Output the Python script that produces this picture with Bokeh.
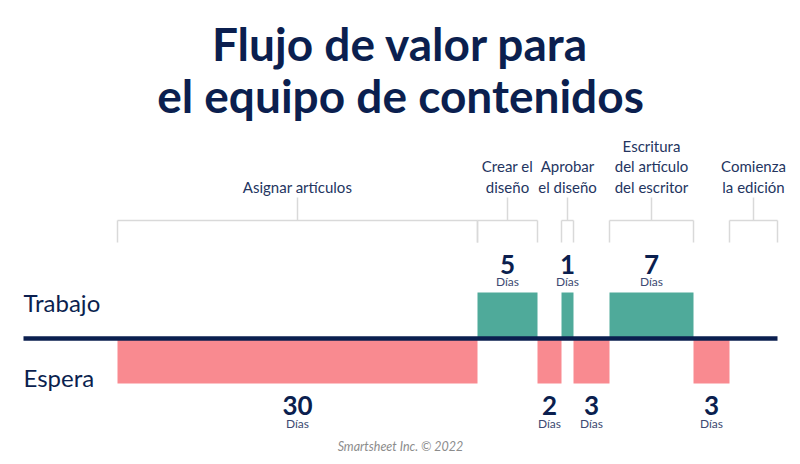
from bokeh.plotting import figure
from bokeh.models import Range1d, ColumnDataSource
from bokeh.core.properties import value
from bokeh.embed import file_html
from bokeh.resources import INLINE

# ---- data ----
title_lines = ["Flujo de valor para", "el equipo de contenidos"]
segment_kind = ["Espera", "Trabajo", "Espera", "Trabajo", "Espera", "Trabajo", "Espera"]
segment_days = [30, 5, 2, 1, 3, 7, 3]
step_labels = [
    ["Asignar artículos"],
    ["Crear el", "diseño"],
    ["Aprobar", "el diseño"],
    ["Escritura", "del artículo", "del escritor"],
    ["Comienza", "la edición"],
]
step_start = [0, 30, 37, 41, 51]
step_end = [30, 35, 38, 48, 55]
row_labels = ["Trabajo", "Espera"]
unit_label = "Días"
footer = "Smartsheet Inc. © 2022"

NAVY = "#0b1f4f"
TEAL = "#4faa9a"
PINK = "#f98a90"
GRAY = "#d9d9d9"
FONT = "Lato"

W, H = 792, 456
px_per_day = 12.0
left_px = 117.0  # frame px of day 0
base_px = 338.0  # frame px from top of baseline
center_x = 400.0

p = figure(width=W, height=H, output_backend="svg", toolbar_location=None,
           x_range=Range1d(-left_px / px_per_day, (W - left_px) / px_per_day),
           y_range=Range1d(base_px - H, base_px),
           min_border=0, min_border_left=0, min_border_right=0,
           min_border_top=0, min_border_bottom=0)
p.axis.visible = False
p.grid.visible = False
p.outline_line_color = None
p.background_fill_color = "white"
p.border_fill_color = "white"

# segments
starts = []
acc = 0
for d in segment_days:
    starts.append(acc)
    acc += d
ends = [s + d for s, d in zip(starts, segment_days)]
work_top, wait_bot = 46, -45
tops = [work_top if k == "Trabajo" else 0 for k in segment_kind]
bots = [0 if k == "Trabajo" else wait_bot for k in segment_kind]
cols = [TEAL if k == "Trabajo" else PINK for k in segment_kind]
src = ColumnDataSource(dict(left=starts, right=ends, top=tops, bottom=bots, color=cols))
p.quad(left="left", right="right", top="top", bottom="bottom", color="color",
       line_color=None, source=src)

# baseline
label_x = -94 / px_per_day
p.segment(x0=[label_x], x1=[max(step_end)], y0=[0], y1=[0], line_color=NAVY, line_width=4.5)

# value labels
mids = [(s + e) / 2 for s, e in zip(starts, ends)]
num_y = [74 if k == "Trabajo" else -67 for k in segment_kind]
dias_y = [57 if k == "Trabajo" else -85 for k in segment_kind]
p.text(x=mids, y=num_y, text=[str(d) for d in segment_days], text_align="center",
       text_baseline="middle", text_font=value(FONT), text_font_style="bold",
       text_font_size="26px", text_color=NAVY)
p.text(x=mids, y=dias_y, text=[unit_label] * len(mids), text_align="center",
       text_baseline="middle", text_font=value(FONT), text_font_size="12px",
       text_color="#3c4a72")

# brackets
b_top, b_leg, b_stem = 118, 96, 141
p.segment(x0=step_start, x1=step_end, y0=[b_top] * 5, y1=[b_top] * 5, line_color=GRAY, line_width=1.5)
p.segment(x0=step_start, x1=step_start, y0=[b_top] * 5, y1=[b_leg] * 5, line_color=GRAY, line_width=1.5)
p.segment(x0=step_end, x1=step_end, y0=[b_top] * 5, y1=[b_leg] * 5, line_color=GRAY, line_width=1.5)
smid = [(s + e) / 2 for s, e in zip(step_start, step_end)]
p.segment(x0=smid, x1=smid, y0=[b_top] * 5, y1=[b_stem] * 5, line_color=GRAY, line_width=1.5)

tx, ty, tt = [], [], []
for m, lines in zip(smid, step_labels):
    n = len(lines)
    for i, ln in enumerate(lines):
        tx.append(m)
        ty.append(152 + (n - 1 - i) * 20.5)
        tt.append(ln)
p.text(x=tx, y=ty, text=tt, text_align="center", text_baseline="middle",
       text_font=value(FONT), text_font_size="15px", text_color="#24355f")

# row labels
p.text(x=[label_x] * 2, y=[36, -39], text=row_labels, text_align="left",
       text_baseline="middle", text_font=value(FONT), text_font_size="24px",
       text_color=NAVY, text_font_style="normal")

# title
cx = (center_x - left_px) / px_per_day
p.text(x=[cx] * 2, y=[295, 243], text=title_lines,
       text_align="center", text_baseline="middle", text_font=value(FONT),
       text_font_style="bold", text_font_size="46px", text_color=NAVY)

# footer
p.text(x=[cx], y=[-108], text=[footer], text_align="center",
       text_baseline="middle", text_font=value(FONT), text_font_style="italic",
       text_font_size="12.5px", text_color="#8c8c8c")

open("out.html", "w").write(file_html(p, INLINE))
